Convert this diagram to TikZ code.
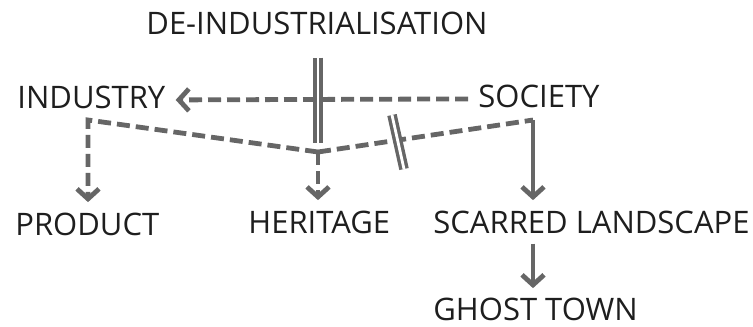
\documentclass[tikz,border=0pt]{standalone}
\usepackage{fontspec}
\setmainfont{Open Sans}
\usetikzlibrary{arrows.meta}
\definecolor{wire}{RGB}{102,102,102}
\definecolor{ink}{RGB}{30,30,30}

\begin{document}
\begin{tikzpicture}[x=0.5pt,y=-0.5pt,>={Straight Barb[length=5pt,width=11pt]},
  lbl/.style={anchor=base west,inner sep=5pt,text=ink,font=\fontsize{15.5}{18}\selectfont},
  link/.style={draw=wire,line width=2.4pt},
  dsh/.style={link,dash pattern=on 6.5pt off 3pt},
  dbl/.style={draw=wire,line width=1.7pt,double=white,double distance=1.4pt}]
\useasboundingbox (0,0) rectangle (753,326);
\node[lbl,inner ysep=11pt] (deind) at (136,35) {DE-INDUSTRIALISATION};
\node[lbl] (ind) at (7,108) {INDUSTRY};
\node[lbl] (soc) at (468,107) {SOCIETY};
\node[lbl] (prod) at (5,235) {PRODUCT};
\node[lbl] (her) at (238,233) {HERITAGE};
\node[lbl] (scar) at (423,233) {SCARRED LANDSCAPE};
\node[lbl,inner ysep=2.5pt] (ghost) at (423,320) {GHOST TOWN};
\coordinate (j) at (318,152);
\coordinate (ic) at (88,120);
\coordinate (sc) at (533,120);
\coordinate (dbot) at (318,143);
\coordinate (brk) at (398,142);

\draw[dsh,->] ([yshift=-1.5pt]soc.west) -- ([yshift=-1.5pt]ind.east);
\draw[dsh,->] (j) -- (ic) -- (ic |- prod.north);
\draw[dsh,->] (j) -- (j |- her.north);
\draw[dsh] (j) -- (sc);
\draw[link,->] (sc) -- (sc |- scar.north);
\draw[link,->] (sc |- scar.south) -- ([yshift=2pt]sc |- ghost.north);
\draw[dbl] (deind.south -| dbot) -- (dbot);
\draw[dbl] ([shift={(-6,-27)}]brk) -- ([shift={(6,27)}]brk);
\end{tikzpicture}
\end{document}
